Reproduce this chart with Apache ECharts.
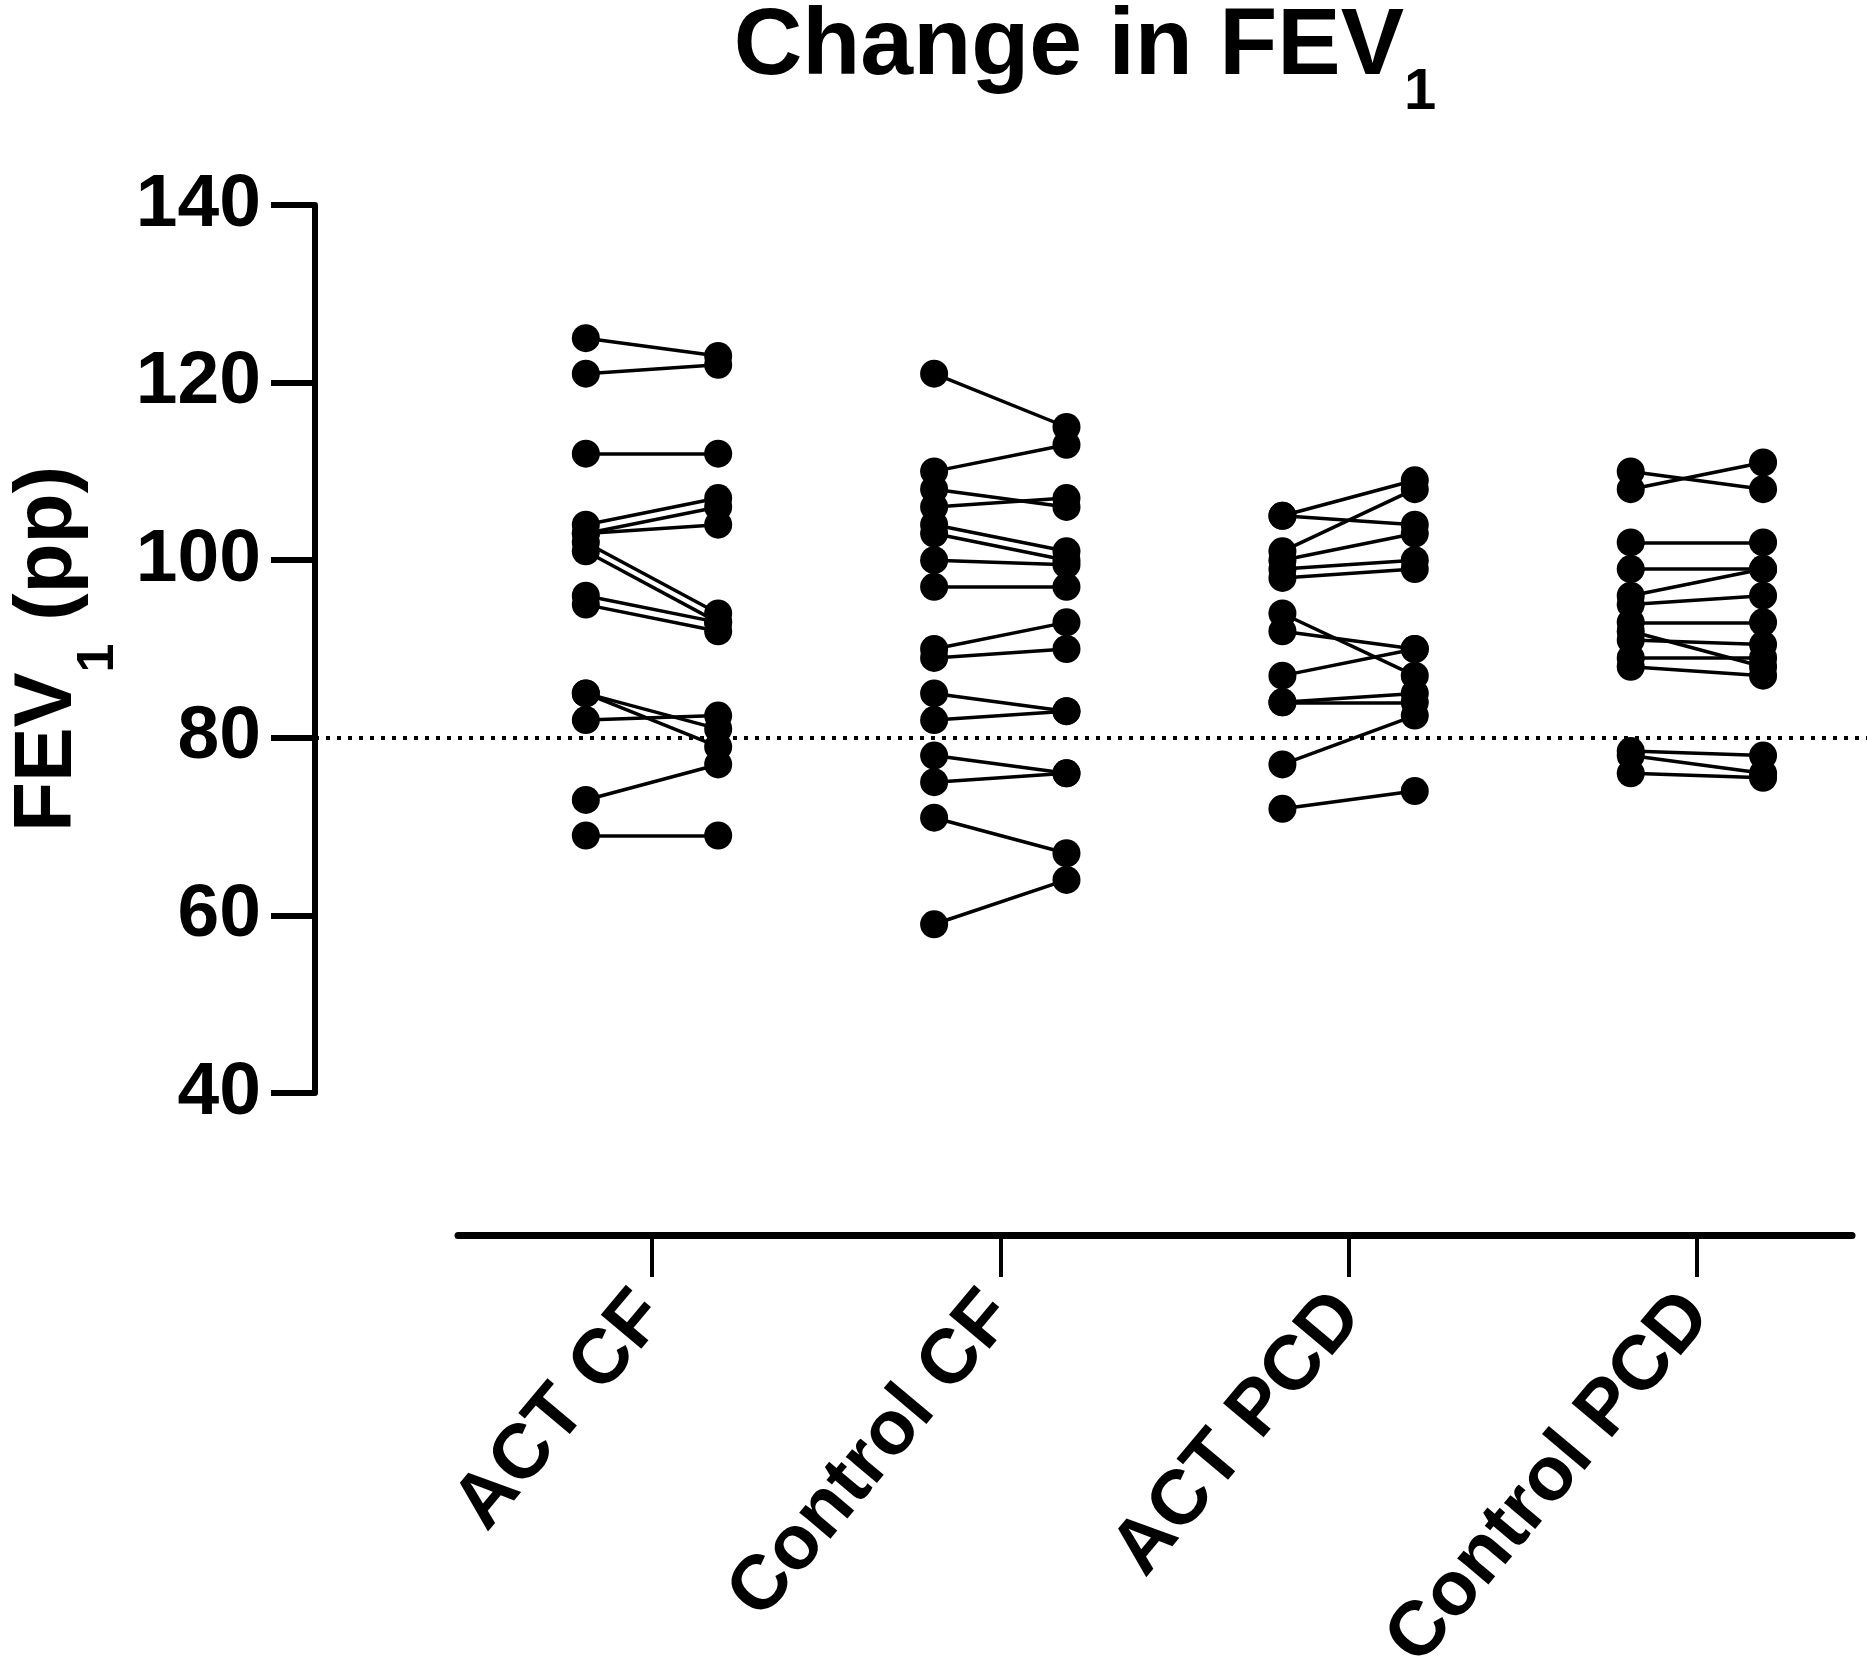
<!DOCTYPE html>
<html lang="en">
<head>
    <meta charset="UTF-8">
    <title>Change in FEV1</title>
    <script src="https://cdn.jsdelivr.net/npm/echarts@6/dist/echarts.min.js"></script>
</head>
<body style="margin: 0; background: #fff;">
<div id="container" style="width: 1867px; height: 1659px;"></div>
<script type="text/javascript">

    // group names on the x axis
    let categories = ['ACT CF', 'Control CF', 'ACT PCD', 'Control PCD'];
    let yTicks = [40, 60, 80, 100, 120, 140];

    // FEV1 (pp) per patient, first visit / second visit (same index = same patient)
    let actCfPre = [125, 121, 112, 104, 103, 103, 102, 101, 96, 95, 85, 85, 82, 73, 69];
    let actCfPost = [123, 122, 112, 107, 106, 104, 94, 93, 93, 92, 81, 79, 82.5, 77, 69];

    let controlCfPre = [121, 110, 108, 106, 104, 103, 100, 97, 90, 89, 85, 82, 78, 75, 71, 59];
    let controlCfPost = [115, 113, 106, 107, 101, 100, 99.5, 97, 93, 90, 83, 83, 76, 76, 67, 64];

    let actPcdPre = [105, 105, 101, 100, 99, 98, 94, 92, 87, 84, 84, 77, 72];
    let actPcdPost = [109, 104, 108, 103, 100, 99, 87, 90, 90, 85, 84, 82.5, 74];

    let controlPcdPre = [110, 108, 102, 99, 96, 95, 93, 92, 91, 89, 88, 78.5, 78, 76];
    let controlPcdPost = [108, 111, 102, 99, 99, 96, 93, 88, 90.5, 89, 87, 78, 76, 75.5];

    let threshold = 80;

    let groups = [
        [actCfPre, actCfPost],
        [controlCfPre, controlCfPost],
        [actPcdPre, actPcdPost],
        [controlPcdPre, controlPcdPost]
    ];

    let chart = {
        paint: function () {
            let dom = document.getElementById("container");
            let myChart = echarts.init(dom, null, {renderer: 'canvas'});

            let font = '"Liberation Sans", Arial, Helvetica, sans-serif';
            // pixel layout of the category axis (first tick, spacing between ticks)
            let firstTick = 652, step = 348.3;
            let plotLeft = 315, xLineLeft = 458, xLineRight = 1852, W = 1867;
            let shift = 0.19;

            let segs = [], dots = [];
            groups.forEach(function (g, i) {
                g[0].forEach(function (v, k) {
                    let a = [i - shift, v], b = [i + shift, g[1][k]];
                    segs.push({coords: [a, b]});
                    dots.push(a, b);
                });
            });

            let option = {
                animation: false,
                backgroundColor: '#fff',
                graphic: [{
                    type: 'text',
                    x: 1085,
                    y: 0,
                    style: {
                        text: '{a|Change in FEV}{s|1}',
                        align: 'center',
                        verticalAlign: 'top',
                        rich: {
                            a: {fontSize: 95, fontWeight: 'bold', fontFamily: font, fill: '#000', verticalAlign: 'bottom', padding: [0, 0, 27, 0]},
                            s: {fontSize: 58, fontWeight: 'bold', fontFamily: font, fill: '#000', verticalAlign: 'bottom'}
                        }
                    }
                }],
                grid: [
                    {left: plotLeft, right: 0, top: 205, height: 888, outerBoundsMode: 'none', containLabel: false},
                    {left: xLineLeft, right: W - xLineRight, top: 1100, height: 135, outerBoundsMode: 'none', containLabel: false}
                ],
                xAxis: [{
                    gridIndex: 0,
                    type: 'value',
                    min: (plotLeft - firstTick) / step,
                    max: (W - firstTick) / step,
                    show: false
                }, {
                    gridIndex: 1,
                    type: 'value',
                    min: (xLineLeft - firstTick) / step,
                    max: (xLineRight - firstTick) / step,
                    axisLine: {onZero: false, lineStyle: {color: '#000', width: 7}},
                    axisTick: {show: true, length: 42, lineStyle: {color: '#000', width: 4},
                        customValues: [0, 1, 2, 3]},
                    axisLabel: {
                        customValues: [0, 1, 2, 3],
                        formatter: function (v) { return categories[Math.round(v)]; },
                        rotate: 50,
                        margin: 68,
                        fontSize: 77,
                        fontWeight: 'bold',
                        fontFamily: font,
                        color: '#000'
                    },
                    splitLine: {show: false}
                }],
                yAxis: [{
                    gridIndex: 0,
                    type: 'value',
                    min: yTicks[0],
                    max: yTicks[yTicks.length - 1],
                    interval: 20,
                    name: '{a|FEV}{s|1}{a| (pp)}',
                    nameLocation: 'middle',
                    nameRotate: 90,
                    nameGap: 190,
                    nameTextStyle: {
                        rich: {
                            a: {fontSize: 82, fontWeight: 'bold', fontFamily: font, color: '#000', verticalAlign: 'bottom', padding: [0, 0, 36, 0]},
                            s: {fontSize: 52, fontWeight: 'bold', fontFamily: font, color: '#000', verticalAlign: 'bottom'}
                        }
                    },
                    axisLine: {show: true, onZero: false, lineStyle: {color: '#000', width: 6}},
                    axisTick: {show: true, length: 44, lineStyle: {color: '#000', width: 6}},
                    axisLabel: {margin: 54, fontSize: 75, fontWeight: 'bold', fontFamily: font, color: '#000'},
                    splitLine: {show: false}
                }, {
                    gridIndex: 1,
                    type: 'value',
                    show: false
                }],
                series: [{
                    type: 'lines',
                    coordinateSystem: 'cartesian2d',
                    xAxisIndex: 0,
                    yAxisIndex: 0,
                    data: segs,
                    silent: true,
                    lineStyle: {color: '#000', width: 3.5, opacity: 1},
                    z: 2
                }, {
                    type: 'scatter',
                    xAxisIndex: 0,
                    yAxisIndex: 0,
                    data: dots,
                    symbol: 'circle',
                    symbolSize: 28,
                    itemStyle: {color: '#000', opacity: 1},
                    z: 3,
                    markLine: {
                        silent: true,
                        symbol: 'none',
                        label: {show: false},
                        lineStyle: {color: '#000', width: 4, type: [4, 7]},
                        data: [{yAxis: threshold}]
                    }
                }]
            };
            myChart.setOption(option, true);
        }
    };

    chart.paint();

</script>
</body>
</html>
